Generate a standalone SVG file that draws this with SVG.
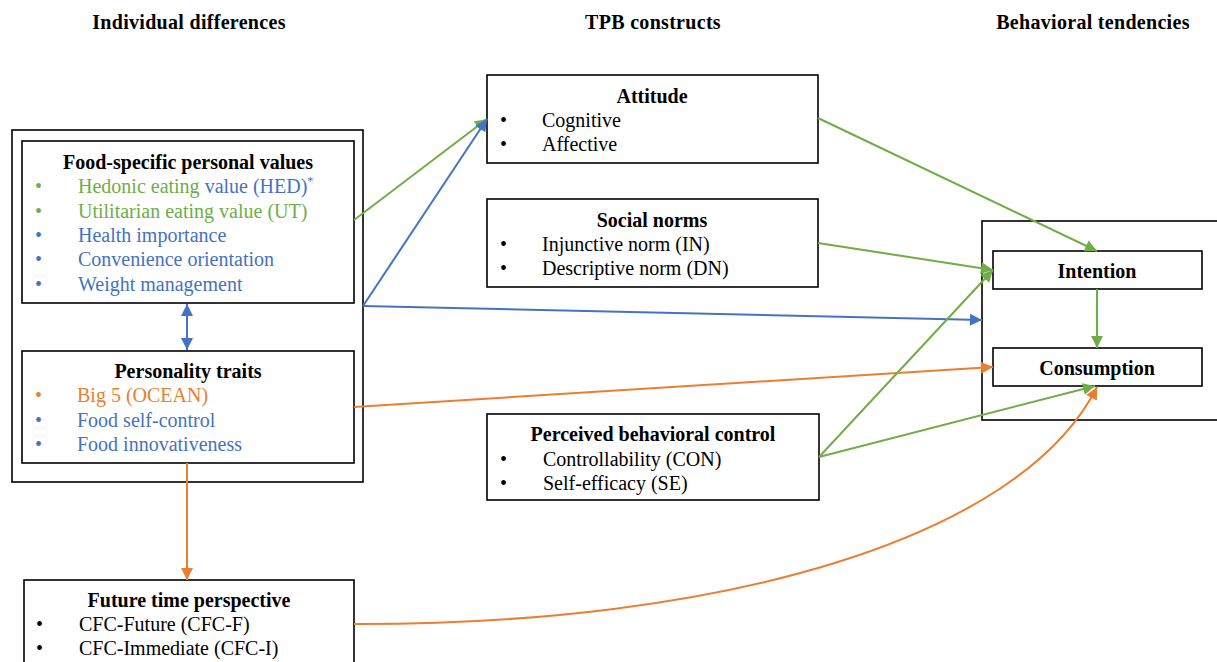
<svg xmlns="http://www.w3.org/2000/svg" width="1217" height="662" viewBox="0 0 1217 662">
<defs>
<style>
text{font-family:"Liberation Serif","Times New Roman",serif;font-size:20px;fill:#000}
.h{font-weight:bold;text-anchor:middle}
.g{fill:#70AD47}.b{fill:#4472C4}.o{fill:#ED7D31}
.box{fill:#fff;stroke:#000;stroke-width:1.6}
.cg{stroke:#70AD47;stroke-width:2;fill:none}
.cb{stroke:#4472C4;stroke-width:2;fill:none}
.co{stroke:#ED7D31;stroke-width:2;fill:none}
</style>
<marker id="ag" viewBox="0 0 10 10" refX="10" refY="5" markerWidth="14" markerHeight="12" markerUnits="userSpaceOnUse" orient="auto-start-reverse"><path d="M0,0L10,5L0,10z" fill="#70AD47"/></marker>
<marker id="ab" viewBox="0 0 10 10" refX="10" refY="5" markerWidth="14" markerHeight="12" markerUnits="userSpaceOnUse" orient="auto-start-reverse"><path d="M0,0L10,5L0,10z" fill="#4472C4"/></marker>
<marker id="ao" viewBox="0 0 10 10" refX="10" refY="5" markerWidth="14" markerHeight="12" markerUnits="userSpaceOnUse" orient="auto-start-reverse"><path d="M0,0L10,5L0,10z" fill="#ED7D31"/></marker>
</defs>
<rect width="1217" height="662" fill="#fff"/>
<g id="headers">
<text class="h" x="189" y="29" letter-spacing="0.3">Individual differences</text>
<text class="h" x="653" y="29" letter-spacing="0.3">TPB constructs</text>
<text class="h" x="1093" y="29" letter-spacing="0.3">Behavioral tendencies</text>
</g>
<g id="individual-differences">
<rect class="box" x="12" y="130" width="351" height="352"/>
</g>
<g id="behavioral-tendencies">
<rect class="box" x="982" y="221" width="240" height="199"/>
</g>
<g id="food-values">
<rect class="box" x="22" y="141" width="332" height="162"/>
<text class="h" x="188" y="169">Food-specific personal values</text>
<text class="g" x="35" y="193">•</text><text x="78" y="193"><tspan class="g">Hedonic eating </tspan><tspan class="b">value (HED)</tspan><tspan class="b" font-size="12" dy="-8">*</tspan></text>
<text class="g" x="35" y="218">•</text><text class="g" x="78" y="218">Utilitarian eating value (UT)</text>
<text class="b" x="35" y="242">•</text><text class="b" x="78" y="242">Health importance</text>
<text class="b" x="35" y="266">•</text><text class="b" x="78" y="266">Convenience orientation</text>
<text class="b" x="35" y="291">•</text><text class="b" x="78" y="291">Weight management</text>
</g>
<g id="personality">
<rect class="box" x="22" y="351" width="332" height="112"/>
<text class="h" x="188" y="378">Personality traits</text>
<text class="o" x="35" y="402">•</text><text class="o" x="77" y="402">Big 5 (OCEAN)</text>
<text class="b" x="35" y="427">•</text><text class="b" x="77" y="427">Food self-control</text>
<text class="b" x="35" y="451">•</text><text class="b" x="77" y="451">Food innovativeness</text>
</g>
<g id="future">
<rect class="box" x="24" y="580" width="330" height="90"/>
<text class="h" x="189" y="607">Future time perspective</text>
<text x="36" y="631">•</text><text x="79" y="631">CFC-Future (CFC-F)</text>
<text x="36" y="655">•</text><text x="79" y="655">CFC-Immediate (CFC-I)</text>
</g>
<g id="attitude">
<rect class="box" x="487" y="75" width="331" height="88"/>
<text class="h" x="652" y="103">Attitude</text>
<text x="500" y="127">•</text><text x="542" y="127">Cognitive</text>
<text x="500" y="151">•</text><text x="542" y="151">Affective</text>
</g>
<g id="social-norms">
<rect class="box" x="487" y="199" width="331" height="88"/>
<text class="h" x="652" y="227">Social norms</text>
<text x="500" y="251">•</text><text x="542" y="251">Injunctive norm (IN)</text>
<text x="500" y="275">•</text><text x="542" y="275">Descriptive norm (DN)</text>
</g>
<g id="pbc">
<rect class="box" x="487" y="414" width="332" height="86"/>
<text class="h" x="653" y="441">Perceived behavioral control</text>
<text x="500" y="466">•</text><text x="543" y="466">Controllability (CON)</text>
<text x="500" y="490">•</text><text x="543" y="490">Self-efficacy (SE)</text>
</g>
<g id="intention">
<rect class="box" x="993" y="251" width="209" height="38"/>
<text class="h" x="1097" y="278">Intention</text>
</g>
<g id="consumption">
<rect class="box" x="993" y="348" width="209" height="38"/>
<text class="h" x="1097" y="375">Consumption</text>
</g>
<g id="connectors">
<path class="cg" d="M354,220L487,119" marker-end="url(#ag)"/>
<path class="cb" d="M363,306L487,119" marker-end="url(#ab)"/>
<path class="cb" d="M363,306L982,320" marker-end="url(#ab)"/>
<path class="cb" d="M187,304L187,350" marker-start="url(#ab)" marker-end="url(#ab)"/>
<path class="co" d="M354,407L993,367" marker-end="url(#ao)"/>
<path class="co" d="M187,463L187,580" marker-end="url(#ao)"/>
<path class="co" d="M354,624C720,625 1020,540 1097,387" marker-end="url(#ao)"/>
<path class="cg" d="M818,118L1097,251" marker-end="url(#ag)"/>
<path class="cg" d="M818,243L993,270" marker-end="url(#ag)"/>
<path class="cg" d="M819,457L993,270" marker-end="url(#ag)"/>
<path class="cg" d="M819,457L1095,386" marker-end="url(#ag)"/>
<path class="cg" d="M1097,289L1097,348" marker-end="url(#ag)"/>
</g>
</svg>
